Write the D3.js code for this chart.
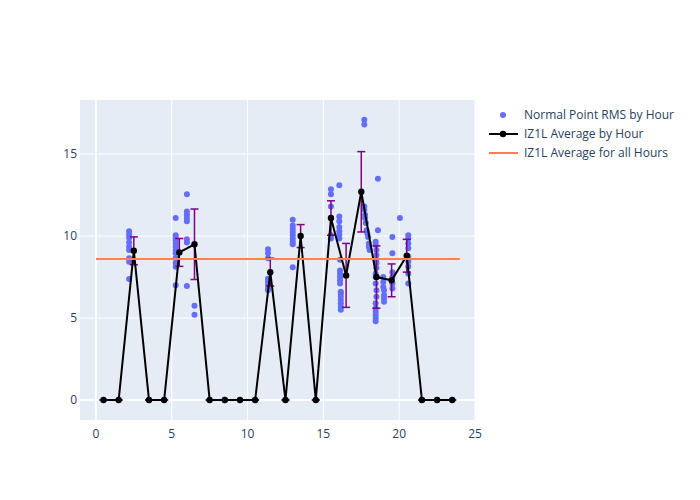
<!DOCTYPE html>
<html>
<head>
<meta charset="utf-8">
<script src="https://cdn.jsdelivr.net/npm/d3@7"></script>
<style>
  body { margin: 0; background: #fff; }
  text { font-family: "Open Sans", "Noto Sans", sans-serif; }
</style>
</head>
<body>
<div id="chart"></div>
<script>
let width = 700, height = 500;

// hourly averages (x = hour + 0.5)
var hours = [0.5,1.5,2.5,3.5,4.5,5.5,6.5,7.5,8.5,9.5,10.5,11.5,12.5,13.5,14.5,15.5,16.5,17.5,18.5,19.5,20.5,21.5,22.5,23.5];
var hourAvg = [0,0,9.1,0,0,9.0,9.5,0,0,0,0,7.8,0,10.0,0,11.1,7.6,12.7,7.5,7.3,8.8,0,0,0];
var hourErr = [0,0,0.85,0,0,0.85,2.15,0,0,0,0,0.85,0,0.7,0,1.05,1.95,2.45,1.9,1.0,1.0,0,0,0];
var overallAvg = 8.6;

// individual normal point RMS values
var ptHour = [
  2.19,2.19,2.19,2.19,2.19,2.19,2.19,2.19,2.19,
  5.26,5.26,5.26,5.26,5.26,5.26,5.26,5.26,5.26,5.26,5.26,5.26,
  6.0,6.0,6.0,6.0,6.0,6.0,6.0,6.0,6.5,6.5,
  11.35,11.35,11.35,11.35,11.35,11.35,11.35,11.35,
  12.98,12.98,12.98,12.98,12.98,12.98,12.98,12.98,12.98,
  15.5,15.5,15.5,15.5,15.5,
  16.05,16.05,16.05,16.05,16.05,16.05,16.05,16.1,16.1,16.1,16.1,16.1,16.1,16.15,16.15,16.15,16.15,16.15,16.15,16.15,
  17.7,17.7,17.7,17.7,17.75,17.75,17.8,17.85,17.9,17.95,18.0,18.0,18.05,
  18.6,18.6,18.45,18.45,18.5,18.5,18.5,18.5,18.5,18.45,18.45,18.45,18.5,18.5,18.45,18.45,18.45,18.45,18.45,18.45,
  18.95,18.95,18.95,19.0,19.0,19.0,19.0,
  19.55,19.55,19.55,19.55,19.55,19.55,20.05,
  20.6,20.6,20.6,20.6,20.6,20.6,20.6,20.6,20.6
];
var ptRms = [
  10.3,10.1,9.9,9.6,9.35,9.15,8.65,8.43,7.38,
  11.1,10.05,9.9,9.75,9.55,9.35,9.15,8.95,8.65,8.35,8.13,7.0,
  12.55,11.5,11.3,11.1,10.9,9.8,9.6,6.95,5.75,5.2,
  9.2,8.95,8.65,7.4,7.2,7.0,6.8,6.7,
  11.0,10.65,10.45,10.25,10.05,9.85,9.65,9.5,8.1,
  12.85,12.55,11.8,10.05,9.85,
  13.1,11.2,10.9,10.55,10.3,10.1,9.85,8.55,7.9,7.7,7.5,7.3,7.1,6.6,6.5,6.3,6.1,5.9,5.7,5.5,
  17.1,16.8,11.8,11.6,11.3,11.1,10.8,10.35,10.15,9.95,9.55,9.35,9.15,
  13.5,10.35,9.65,9.45,9.15,8.85,8.55,8.35,8.05,7.7,7.5,7.1,6.7,6.3,5.9,5.6,5.4,5.2,5.0,4.8,
  7.5,7.2,6.9,6.7,6.4,6.2,6.0,
  9.95,8.95,7.8,7.5,7.1,6.8,11.1,
  10.05,9.85,9.55,9.25,8.75,8.45,8.15,7.7,7.1
];
var points = ptHour.map((h, i) => ({h: h, v: ptRms[i]}));
var avgData = hours.map((h, i) => ({h: h, v: hourAvg[i], e: hourErr[i]}));

var xTicks = [0, 5, 10, 15, 20, 25];
var yTicks = [0, 5, 10, 15];

let mLeft = 80, mRight = 475, mTop = 100, mBottom = 420;
let x = d3.scaleLinear().domain([-1.05, 25]).range([mLeft, mRight]);
let y = d3.scaleLinear().domain([-1.22, 18.3]).range([mBottom, mTop]);

let svg = d3.select("#chart").append("svg")
  .attr("width", width).attr("height", height);

svg.append("rect")
  .attr("x", mLeft).attr("y", mTop)
  .attr("width", mRight - mLeft).attr("height", mBottom - mTop)
  .attr("fill", "#e5ecf6");

// grid
svg.append("g").selectAll("line").data(xTicks.filter(t => x(t) <= mRight)).enter().append("line")
  .attr("x1", d => x(d)).attr("x2", d => x(d))
  .attr("y1", mTop).attr("y2", mBottom)
  .attr("stroke", "#fff").attr("stroke-width", d => d === 0 ? 2 : 1);
svg.append("g").selectAll("line").data(yTicks).enter().append("line")
  .attr("x1", mLeft).attr("x2", mRight)
  .attr("y1", d => y(d)).attr("y2", d => y(d))
  .attr("stroke", "#fff").attr("stroke-width", d => d === 0 ? 2 : 1);

// tick labels
svg.append("g").selectAll("text").data(xTicks).enter().append("text")
  .attr("x", d => x(d)).attr("y", mBottom + 18)
  .attr("text-anchor", "middle").attr("font-size", 12).attr("fill", "#2a3f5f")
  .text(d => d);
svg.append("g").selectAll("text").data(yTicks).enter().append("text")
  .attr("x", mLeft - 3).attr("y", d => y(d) + 4)
  .attr("text-anchor", "end").attr("font-size", 12).attr("fill", "#2a3f5f")
  .text(d => d);

// scatter points
svg.append("g").selectAll("circle").data(points).enter().append("circle")
  .attr("cx", d => x(d.h)).attr("cy", d => y(d.v)).attr("r", 3)
  .attr("fill", "#636efa");

// error bars
let eb = svg.append("g").attr("stroke", "purple").attr("stroke-width", 1.5);
eb.selectAll(".v").data(avgData).enter().append("line")
  .attr("x1", d => x(d.h)).attr("x2", d => x(d.h))
  .attr("y1", d => y(d.v - d.e)).attr("y2", d => y(d.v + d.e));
eb.selectAll(".t").data(avgData).enter().append("line")
  .attr("x1", d => x(d.h) - 4).attr("x2", d => x(d.h) + 4)
  .attr("y1", d => y(d.v + d.e)).attr("y2", d => y(d.v + d.e));
eb.selectAll(".b").data(avgData).enter().append("line")
  .attr("x1", d => x(d.h) - 4).attr("x2", d => x(d.h) + 4)
  .attr("y1", d => y(d.v - d.e)).attr("y2", d => y(d.v - d.e));

// average line
let line = d3.line().x(d => x(d.h)).y(d => y(d.v));
svg.append("path").datum(avgData)
  .attr("d", line).attr("fill", "none")
  .attr("stroke", "black").attr("stroke-width", 2);
svg.append("g").selectAll("circle").data(avgData).enter().append("circle")
  .attr("cx", d => x(d.h)).attr("cy", d => y(d.v)).attr("r", 3.2)
  .attr("fill", "black");

// overall average
svg.append("line")
  .attr("x1", x(0)).attr("x2", x(24))
  .attr("y1", y(overallAvg)).attr("y2", y(overallAvg))
  .attr("stroke", "#ff7f50").attr("stroke-width", 2);

// legend
let lg = svg.append("g").attr("font-size", 12).attr("fill", "#2a3f5f");
lg.append("circle").attr("cx", 503).attr("cy", 115).attr("r", 3).attr("fill", "#636efa");
lg.append("text").attr("x", 524).attr("y", 119).text("Normal Point RMS by Hour");
lg.append("line").attr("x1", 489).attr("x2", 518).attr("y1", 134).attr("y2", 134)
  .attr("stroke", "black").attr("stroke-width", 2);
lg.append("circle").attr("cx", 503).attr("cy", 134).attr("r", 3.2).attr("fill", "black");
lg.append("text").attr("x", 524).attr("y", 138).text("IZ1L Average by Hour");
lg.append("line").attr("x1", 489).attr("x2", 518).attr("y1", 153).attr("y2", 153)
  .attr("stroke", "#ff7f50").attr("stroke-width", 2);
lg.append("text").attr("x", 524).attr("y", 157).text("IZ1L Average for all Hours");
</script>
</body>
</html>
